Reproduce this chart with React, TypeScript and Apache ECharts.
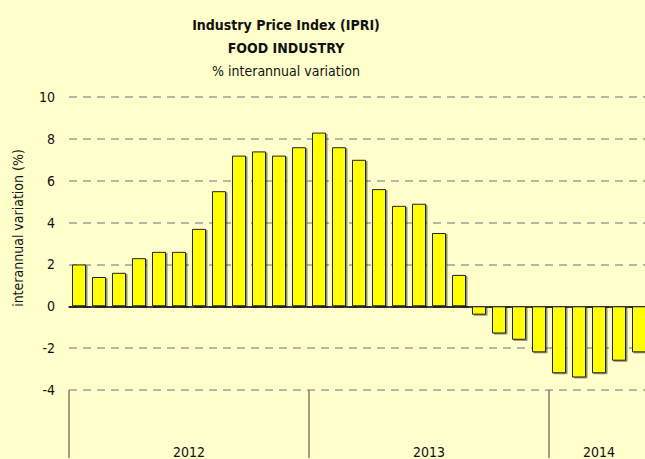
import React, { useEffect, useRef } from "react";
import * as echarts from "echarts";

const months = [
  "2012-01","2012-02","2012-03","2012-04","2012-05","2012-06","2012-07","2012-08","2012-09","2012-10","2012-11","2012-12",
  "2013-01","2013-02","2013-03","2013-04","2013-05","2013-06","2013-07","2013-08","2013-09","2013-10","2013-11","2013-12",
  "2014-01","2014-02","2014-03","2014-04","2014-05",
];
const values2012 = [2.0, 1.4, 1.6, 2.3, 2.6, 2.6, 3.7, 5.5, 7.2, 7.4, 7.2, 7.6];
const values2013 = [8.3, 7.6, 7.0, 5.6, 4.8, 4.9, 3.5, 1.5, -0.4, -1.3, -1.6, -2.2];
const values2014 = [-3.2, -3.4, -3.2, -2.6, -2.2];
const yearLabels = ["2012", "2013", "2014"];
const yTicks = { min: -4, max: 10, interval: 2 };

const titleLines = ["Industry Price Index (IPRI)", "FOOD INDUSTRY", "% interannual variation"];
const yAxisName = "interannual variation (%)";

const FONT = "'DejaVu Sans Condensed', 'Liberation Sans Narrow', 'Liberation Sans', sans-serif";

export default function App() {
  const ref = useRef<HTMLDivElement>(null);
  useEffect(() => {
    if (!ref.current) return;
    const chart = echarts.init(ref.current, undefined, { renderer: "svg" });
    const values = [...values2012, ...values2013, ...values2014];
    const starts = [0, values2012.length, values2012.length + values2013.length];
    const labelIdx: Record<number, { text: string; shift: boolean }> = {};
    labelIdx[starts[0] + values2012.length / 2 - 1] = { text: yearLabels[0], shift: true };
    labelIdx[starts[1] + values2013.length / 2 - 1] = { text: yearLabels[1], shift: true };
    labelIdx[starts[2] + Math.floor(values2014.length / 2)] = { text: yearLabels[2], shift: false };

    chart.setOption({
      animation: false,
      backgroundColor: "#FFFFCC",
      textStyle: { fontFamily: FONT },
      title: [
        { text: titleLines[0], left: 281, top: 13, textAlign: "center", textStyle: { fontSize: 14, fontWeight: "bold", color: "#111", fontFamily: FONT } },
        { text: titleLines[1], left: 281, top: 36, textAlign: "center", textStyle: { fontSize: 14, fontWeight: "bold", color: "#111", fontFamily: FONT } },
        { text: titleLines[2], left: 281, top: 59, textAlign: "center", textStyle: { fontSize: 14, fontWeight: "normal", color: "#111", fontFamily: FONT } },
      ],
      graphic: [
        {
          type: "text",
          x: 18,
          y: 228,
          rotation: Math.PI / 2,
          style: { text: yAxisName, align: "center", verticalAlign: "middle", fontSize: 14, fill: "#111", fontFamily: FONT },
        },
      ],
      grid: { left: 69, right: 0, top: 97, bottom: 68, containLabel: false },
      xAxis: [
        {
          type: "category",
          data: months,
          axisLine: { onZero: true, lineStyle: { color: "#000", width: 1.5 } },
          axisTick: { show: false },
          axisLabel: { show: false },
        },
        {
          type: "category",
          data: months,
          position: "bottom",
          axisLine: { show: false, onZero: false },
          axisTick: {
            show: true,
            length: 68,
            interval: (i: number) => starts.indexOf(i) >= 0,
            lineStyle: { color: "#7f7f6a", width: 1.5 },
          },
          axisLabel: {
            show: true,
            interval: 0,
            margin: 55,
            formatter: (_v: string, i: number) => {
              const l = labelIdx[i];
              if (!l) return "";
              return l.shift ? `{s|${l.text}}` : `{n|${l.text}}`;
            },
            rich: {
              s: { fontSize: 14, color: "#111", padding: [0, 0, 0, 20], fontFamily: FONT },
              n: { fontSize: 14, color: "#111", fontFamily: FONT },
            },
          },
        },
      ],
      yAxis: {
        type: "value",
        min: yTicks.min,
        max: yTicks.max,
        interval: yTicks.interval,
        axisLine: { show: false },
        axisTick: { show: false },
        axisLabel: { margin: 14, fontSize: 14, color: "#111", fontFamily: FONT },
        splitLine: { show: true, lineStyle: { color: "#a0a0a0", type: [8, 6], width: 1.5 } },
      },
      series: [
        {
          type: "bar",
          data: values,
          xAxisIndex: 0,
          barWidth: 14,
          itemStyle: {
            color: "#FFFF00",
            borderColor: "#222",
            borderWidth: 1,
            shadowColor: "rgba(0,0,0,0.45)",
            shadowOffsetX: 1.5,
            shadowOffsetY: 1,
            shadowBlur: 1,
          },
        },
      ],
    });
    return () => chart.dispose();
  }, []);
  return (
    <div style={{ position: "fixed", left: 0, top: 0, width: 645, height: 459, overflow: "hidden", background: "#FFFFCC" }}>
      <div ref={ref} style={{ width: 649, height: 459 }} />
    </div>
  );
}
